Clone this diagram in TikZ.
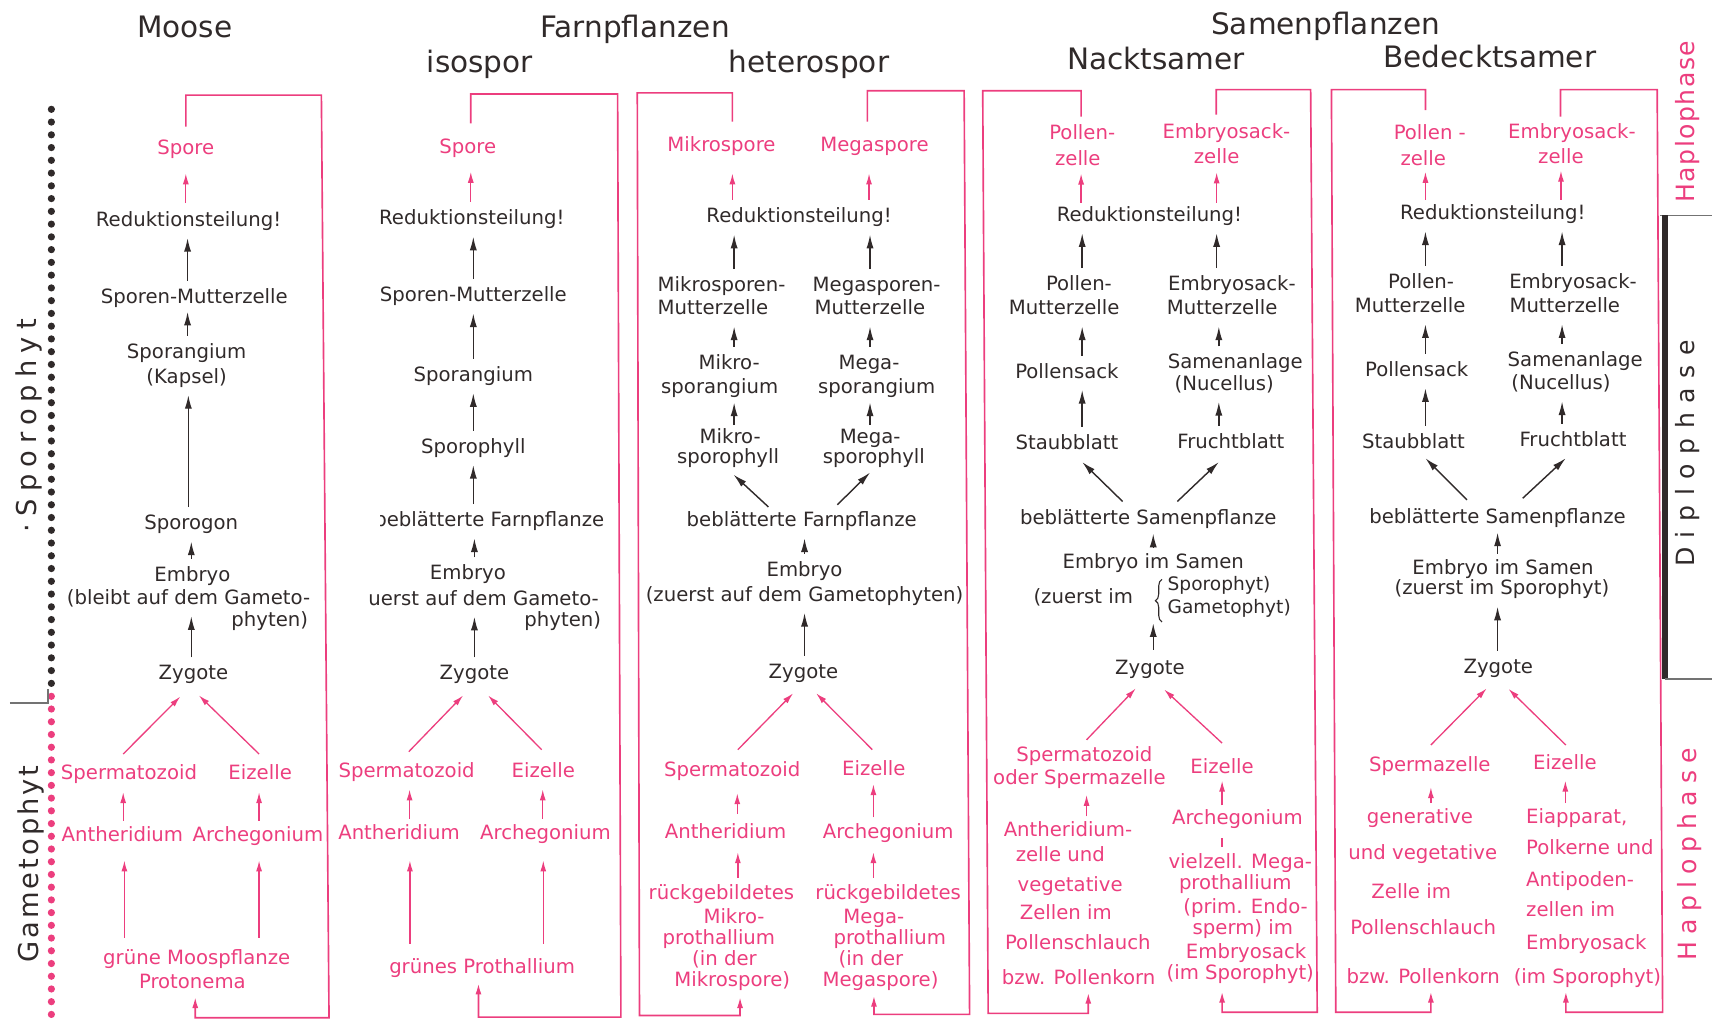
\documentclass[tikz,border=0pt]{standalone}
\usepackage{fontspec}
\setmainfont{DejaVu Sans}
\usetikzlibrary{arrows.meta,decorations.pathreplacing,calc}
\definecolor{pk}{RGB}{236,62,126}
\definecolor{ink}{RGB}{48,42,42}
\definecolor{rulegray}{RGB}{115,115,115}
\tikzset{
 tx/.style={inner sep=0pt, text=ink, font=\fontsize{18}{22}\selectfont, text height=13pt, text depth=4pt},
 px/.style={tx, text=pk},
 sm/.style={tx, font=\fontsize{17}{20}\selectfont, text height=12.3pt, text depth=3.8pt},
 hd/.style={inner sep=0pt, text=ink, font=\fontsize{27}{32}\selectfont, text height=19.5pt, text depth=5.5pt},
 side/.style={inner sep=0pt, rotate=90},
 arb/.style={draw=ink, line width=1.3pt, -{Latex[length=12.5pt,width=6.5pt]}},
 arp/.style={draw=pk, line width=1.2pt, -{Latex[length=10pt,width=5.5pt]}},
 ar/.style={arb, shorten <=7.5pt, shorten >=6.5pt},
 par/.style={arp, shorten <=6pt, shorten >=7pt},
 loopl/.style={draw=pk, line width=1.5pt, -{Latex[length=10pt,width=5.5pt]}},
}
\newcommand\vArr[4][]{\draw[ar,#1] (#2,0 |- #3.north) -- (#2,0 |- #4.south);}
\newcommand\pArr[4][]{\draw[par,#1] (#2,0 |- #3.north) -- (#2,0 |- #4.south);}
\begin{document}
\begin{tikzpicture}[x=1pt,y=-1pt]
\useasboundingbox (0,0) rectangle (1568,933);
% ---------------- headers
\node[hd] (hMoose) at (169,27.5) {Moose};
\node[hd] (hFarn) at (581,27) {Farnpflanzen};
\node[hd] (hIso) at (439,59.5) {isospor};
\node[hd] (hHet) at (740,59.5) {heterospor};
\node[hd] (hSam) at (1212.7,24.5) {Samenpflanzen};
\node[hd] (hNac) at (1057.6,57) {Nacktsamer};
\node[hd] (hBed) at (1363,55) {Bedecktsamer};
% ---------------- left margin
\foreach \i in {0,...,45} \fill[ink] (47,{100+\i*11.67}) circle[radius=3.3pt];
\foreach \i in {0,...,25} \fill[pk] (47,{637+\i*11.64}) circle[radius=3.3pt];
\node[side, text=ink, font=\fontsize{25}{30}\selectfont] (sporo) at (26.3,389.5) {\addfontfeature{LetterSpace=26}·Sporophyt};
\node[side, text=ink, font=\fontsize{25}{30}\selectfont] (game) at (28,790.5) {\addfontfeature{LetterSpace=11}Gametophyt};
\draw[rulegray, line width=1.2pt] (9,643) -- (44,643) -- (44,630);
% ---------------- right margin
\node[side, text=pk, font=\fontsize{23}{28}\selectfont] (hap1) at (1544,111.3) {\addfontfeature{LetterSpace=6}Haplophase};
\node[side, text=ink, font=\fontsize{23}{28}\selectfont] (dip) at (1544,415) {\addfontfeature{LetterSpace=38}Diplophase};
\node[side, text=pk, font=\fontsize{23}{28}\selectfont] (hap2) at (1546,781.5) {\addfontfeature{LetterSpace=28}Haplophase};

% ================= Column 1: Moose
\node[px] (s1) at (170,137) {Spore};
\node[tx] (r1) at (172.5,202.5) {Reduktionsteilung!};
\node[tx] (mz1) at (177.7,273) {Sporen-Mutterzelle};
\node[tx] (sg1a) at (170.7,323.3) {Sporangium};
\node[tx] (sg1b) at (170.7,346.2) {(Kapsel)};
\node[tx] (sp1) at (175,480.2) {Sporogon};
\node[tx] (e1a) at (176,527.5) {Embryo};
\node[tx] (e1b) at (172.5,548.5) {(bleibt auf dem Gameto-};
\node[tx,anchor=east] (e1c) at (282,568.5) {phyten)};
\node[tx] (z1) at (177,617.5) {Zygote};
\node[px] (sz1) at (118,709) {Spermatozoid};
\node[px] (ez1) at (238,709) {Eizelle};
\node[px] (an1) at (112,765.5) {Antheridium};
\node[px] (ar1) at (236,765.5) {Archegonium};
\node[px] (gm1a) at (180,878.2) {grüne Moospflanze};
\node[px] (gm1b) at (176,899.5) {Protonema};
\pArr[shorten <=8pt, shorten >=13pt]{170}{r1}{s1}
\vArr{171.6}{mz1}{r1}
\vArr[shorten >=3.5pt]{171.6}{sg1a}{mz1}
\vArr{172.3}{sp1}{sg1b}
\vArr{175}{e1a}{sp1}
\vArr{175}{z1}{e1b}
\pArr{112.7}{an1}{sz1}
\pArr{237}{ar1}{ez1}
\pArr[shorten <=11.5pt, shorten >=13pt]{113.8}{gm1a}{an1}
\pArr[shorten <=11.5pt, shorten >=13pt]{237}{gm1a}{ar1}
\draw[arp] ([shift={(-5.3pt,10.5pt)}]sz1.north) -- ([shift={(-12pt,-11pt)}]z1.south);
\draw[arp] ([shift={(-1pt,10.5pt)}]ez1.north) -- ([shift={(5pt,-10pt)}]z1.south);
\draw[loopl, shorten <=12.5pt, shorten >=4pt] (170,0 |- s1.north) |- (294,87) -- (301,931) -| (178.6,0 |- gm1b.south);

% ================= Column 2: isospor
\node[px] (s2) at (428,135.5) {Spore};
\node[tx] (r2) at (431.6,201.3) {Reduktionsteilung!};
\node[tx] (mz2) at (433,271.5) {Sporen-Mutterzelle};
\node[tx] (sg2) at (433,344.5) {Sporangium};
\node[tx] (sph2) at (433,410.2) {Sporophyll};
\begin{scope}
\clip (348.5,455) rectangle (570,500);
\node[tx,anchor=east] (bf2) at (553,477.3) {beblätterte Farnpflanze};
\end{scope}
\node[tx] (e2a) at (428,526) {Embryo};
\begin{scope}
\clip (337.5,530) rectangle (570,560);
\node[tx,anchor=east] (e2b) at (548,549) {(zuerst auf dem Gameto-};
\end{scope}
\node[tx,anchor=east] (e2c) at (550,568.5) {phyten)};
\node[tx] (z2) at (434,617.5) {Zygote};
\node[px] (sz2) at (372,706.5) {Spermatozoid};
\node[px] (ez2) at (497,706.5) {Eizelle};
\node[px] (an2) at (365,763.5) {Antheridium};
\node[px] (ar2) at (499,763.5) {Archegonium};
\node[px] (gp2) at (441,886) {grünes Prothallium};
\pArr[shorten <=8pt, shorten >=13pt]{430.7}{r2}{s2}
\vArr{433}{mz2}{r2}
\vArr{433}{sg2}{mz2}
\vArr{433}{sph2}{sg2}
\vArr{433}{bf2}{sph2}
\vArr{434}{e2a}{bf2}
\vArr{434}{z2}{e2b}
\pArr{374.7}{an2}{sz2}
\pArr{496.5}{ar2}{ez2}
\pArr[shorten <=14pt, shorten >=15pt]{375}{gp2}{an2}
\pArr[shorten <=14pt, shorten >=15pt]{497}{gp2}{ar2}
\draw[arp] ([shift={(2pt,10.2pt)}]sz2.north) -- ([shift={(-10.3pt,-10pt)}]z2.south);
\draw[arp] ([shift={(-1.5pt,12pt)}]ez2.north) -- ([shift={(12.5pt,-10pt)}]z2.south);
\draw[loopl, shorten <=14pt, shorten >=5pt] (430.7,0 |- s2.north) |- (565,86) -- (568,930.5) -| (437.7,0 |- gp2.south);

% ================= Column 3: heterospor
\node[px] (mis3) at (660,134) {Mikrospore};
\node[px] (mes3) at (800,134) {Megaspore};
\node[tx] (r3) at (731,199.5) {Reduktionsteilung!};
\node[tx,anchor=west] (mmz3a) at (601.5,262.5) {Mikrosporen-};
\node[tx,anchor=west] (mmz3b) at (601.5,283.5) {Mutterzelle};
\node[tx,anchor=west] (mez3a) at (743.3,262.5) {Megasporen-};
\node[tx,anchor=west] (mez3b) at (745,283.5) {Mutterzelle};
\node[tx] (msg3a) at (667,333.5) {Mikro-};
\node[tx] (msg3b) at (658.4,355.5) {sporangium};
\node[tx] (mgs3a) at (795,333.5) {Mega-};
\node[tx] (mgs3b) at (802,355.5) {sporangium};
\node[tx] (mp3a) at (668,401) {Mikro-};
\node[tx] (mp3b) at (666,419.5) {sporophyll};
\node[tx] (gp3a) at (796,401) {Mega-};
\node[tx] (gp3b) at (799.4,419.5) {sporophyll};
\node[tx] (bf3) at (733.4,477.3) {beblätterte Farnpflanze};
\node[tx] (e3a) at (736,523) {Embryo};
\node[tx] (e3b) at (736,545.5) {(zuerst auf dem Gametophyten)};
\node[tx] (z3) at (735,616) {Zygote};
\node[px] (sz3) at (669.8,706) {Spermatozoid};
\node[px] (ez3) at (799.4,705.2) {Eizelle};
\node[px] (an3) at (663.7,762.5) {Antheridium};
\node[px] (ar3) at (812.5,762.5) {Archegonium};
\node[px] (rk3a) at (660,818.5) {rückgebildetes};
\node[px] (rk3b) at (671.5,840.5) {Mikro-};
\node[px] (rk3c) at (657.6,859.5) {prothallium};
\node[px] (rk3d) at (662.8,878.3) {(in der};
\node[px] (rk3e) at (669.8,898.2) {Mikrospore)};
\node[px] (rg3a) at (812.5,818.5) {rückgebildetes};
\node[px] (rg3b) at (799.4,840.5) {Mega-};
\node[px] (rg3c) at (814,859.5) {prothallium};
\node[px] (rg3d) at (796.8,878.5) {(in der};
\node[px] (rg3e) at (805.5,898.2) {Megaspore)};
\pArr[shorten <=8pt, shorten >=16pt]{670}{r3}{mis3}
\pArr[shorten <=8pt, shorten >=16pt]{795}{r3}{mes3}
\vArr{671.6}{mmz3a}{r3}
\vArr{795.9}{mez3a}{r3}
\vArr{671.6}{msg3a}{mmz3b}
\vArr{795.9}{mgs3a}{mez3b}
\vArr[shorten <=3.5pt, shorten >=4pt]{671.6}{mp3a}{msg3b}
\vArr[shorten <=3.5pt, shorten >=4pt]{795.9}{gp3a}{mgs3b}
\draw[arb] ([shift={(-30.4pt,4.8pt)}]bf3.north) -- ([shift={(5pt,-6pt)}]mp3b.south);
\draw[arb] ([shift={(32.6pt,6.8pt)}]bf3.north) -- ([shift={(-3.4pt,-4pt)}]gp3b.south);
\vArr{736}{e3a}{bf3}
\vArr{736}{z3}{e3b}
\pArr[shorten <=9pt, shorten >=11pt]{674.5}{an3}{sz3}
\pArr[shorten <=6pt, shorten >=3.5pt]{799}{ar3}{ez3}
\pArr[shorten <=7pt, shorten >=8.5pt]{675}{rk3a}{an3}
\pArr[shorten <=7pt, shorten >=8.5pt]{799}{rg3a}{ar3}
\draw[arp] ([shift={(5.2pt,11.5pt)}]sz3.north) -- ([shift={(-9.4pt,-9.5pt)}]z3.south);
\draw[arp] ([shift={(-1.4pt,10.7pt)}]ez3.north) -- ([shift={(11.6pt,-9.5pt)}]z3.south);
\draw[loopl, shorten <=14pt, shorten >=5.3pt] (670,0 |- mis3.north) |- (583,85) -- (585,929) -| (677,0 |- rk3e.south);
\draw[loopl, shorten <=14pt, shorten >=4pt] (793.5,0 |- mes3.north) |- (882,83) -- (887,928) -| (799.5,0 |- rg3e.south);

% ================= Column 4: Nacktsamer
\node[px] (pz4a) at (990,123.5) {Pollen-};
\node[px] (pz4b) at (986,146.5) {zelle};
\node[px] (ez4a) at (1122,122.5) {Embryosack-};
\node[px] (ez4b) at (1113,145.5) {zelle};
\node[tx] (r4) at (1051.5,198.2) {Reduktionsteilung!};
\node[tx] (pm4a) at (987,261.5) {Pollen-};
\node[tx] (pm4b) at (973.6,283.5) {Mutterzelle};
\node[tx] (em4a) at (1127,261.5) {Embryosack-};
\node[tx] (em4b) at (1118,283.5) {Mutterzelle};
\node[tx] (ps4) at (976,341.5) {Pollensack};
\node[tx] (sa4a) at (1130,333) {Samenanlage};
\node[tx] (sa4b) at (1120,352.5) {(Nucellus)};
\node[tx] (st4) at (976,406.5) {Staubblatt};
\node[tx] (fb4) at (1126,405.5) {Fruchtblatt};
\node[tx] (bs4) at (1050.5,475.5) {beblätterte Samenpflanze};
\node[tx] (em4) at (1055,515.5) {Embryo im Samen};
\node[tx] (zu4) at (991,547.5) {(zuerst im};
\node[sm,anchor=west] (sg4a) at (1068,536) {Sporophyt)};
\node[sm,anchor=west] (sg4b) at (1068,557) {Gametophyt)};
\draw[ink, line width=1pt, decorate, decoration={brace,amplitude=6pt}] (1063,569) -- (1063,530);
\node[tx] (z4) at (1052,612.5) {Zygote};
\node[px] (sp4a) at (992,692.5) {Spermatozoid};
\node[px] (sp4b) at (987.5,713.5) {oder Spermazelle};
\node[px] (ei4) at (1118,703) {Eizelle};
\node[px] (an4a) at (977,761) {Antheridium-};
\node[px] (an4b) at (970,783.5) {zelle und};
\node[px] (an4c) at (979,811.5) {vegetative};
\node[px] (an4d) at (975,837) {Zellen im};
\node[px] (an4e) at (986,864.5) {Pollenschlauch};
\node[px] (an4f) at (986.7,896.5) {bzw. Pollenkorn};
\node[px] (ag4a) at (1132,750) {Archegonium};
\node[px] (ag4b) at (1134.6,790) {vielzell. Mega-};
\node[px] (ag4c) at (1130,809.5) {prothallium};
\node[px] (ag4d) at (1139.5,831) {(prim. Endo-};
\node[px] (ag4e) at (1137,850.5) {sperm) im};
\node[px] (ag4f) at (1140,872.5) {Embryosack};
\node[px] (ag4g) at (1134.6,892) {(im Sporophyt)};
\pArr[shorten <=4pt, shorten >=3.6pt]{989}{r4}{pz4b}
\pArr[shorten <=4pt, shorten >=3.6pt]{1113}{r4}{ez4b}
\vArr{990}{pm4a}{r4}
\vArr{1113}{em4a}{r4}
\vArr{990}{ps4}{pm4b}
\vArr{1115}{sa4a}{em4b}
\vArr{990}{st4}{ps4}
\vArr{1115}{fb4}{sa4b}
\draw[arb] ([shift={(-23.5pt,8pt)}]bs4.north) -- ([shift={(14pt,-7.5pt)}]st4.south);
\draw[arb] ([shift={(26.5pt,8pt)}]bs4.north) -- ([shift={(-11pt,-8.5pt)}]fb4.south);
\vArr[shorten <=6pt, shorten >=4pt]{1055}{em4}{bs4}
\vArr[shorten <=9.5pt, shorten >=14pt]{1055}{z4}{zu4}
\pArr[shorten <=5.5pt, shorten >=5pt]{994}{an4a}{sp4b}
\pArr[shorten <=4.5pt, shorten >=2.5pt]{1118}{ag4a}{ei4}
\draw[pk, line width=1.2pt, shorten <=6.5pt, shorten >=7.5pt] (1118,0 |- ag4b.north) -- (1118,0 |- ag4a.south);
\draw[arp] ([shift={(2pt,7pt)}]sp4a.north) -- ([shift={(-13pt,-8.6pt)}]z4.south);
\draw[arp] ([shift={(0pt,14.5pt)}]ei4.north) -- ([shift={(13pt,-9.6pt)}]z4.south);
\draw[loopl, shorten <=8pt, shorten >=3pt] (989,0 |- pz4a.north) |- (899,83) -- (904,927) -| (995.6,0 |- an4f.south);
\draw[loopl, shorten <=9pt, shorten >=6.5pt] (1112.6,0 |- ez4a.north) |- (1199,82) -- (1205,926) -| (1118,0 |- ag4g.south);

% ================= Column 5: Bedecktsamer
\node[px] (pz5a) at (1308,123.5) {Pollen -};
\node[px] (pz5b) at (1302,146.5) {zelle};
\node[px] (ez5a) at (1438,122.5) {Embryosack-};
\node[px] (ez5b) at (1428,145.5) {zelle};
\node[tx] (r5) at (1365.6,196.5) {Reduktionsteilung!};
\node[tx] (pm5a) at (1300,259.5) {Pollen-};
\node[tx] (pm5b) at (1290,281.5) {Mutterzelle};
\node[tx] (em5a) at (1439,259.5) {Embryosack-};
\node[tx] (em5b) at (1431.5,281.5) {Mutterzelle};
\node[tx] (ps5) at (1296,340) {Pollensack};
\node[tx] (sa5a) at (1441,331) {Samenanlage};
\node[tx] (sa5b) at (1428,352) {(Nucellus)};
\node[tx] (st5) at (1293,405.5) {Staubblatt};
\node[tx] (fb5) at (1439,404) {Fruchtblatt};
\node[tx] (bs5) at (1370,474.5) {beblätterte Samenpflanze};
\node[tx] (em5) at (1375,521.5) {Embryo im Samen};
\node[tx] (zu5) at (1374,539.8) {(zuerst im Sporophyt)};
\node[tx] (z5) at (1370.7,611.5) {Zygote};
\node[px] (sz5) at (1308,701.5) {Spermazelle};
\node[px] (ei5) at (1431.6,699.5) {Eizelle};
\node[px] (ge5a) at (1299,748.5) {generative};
\node[px] (ge5b) at (1301.6,782) {und vegetative};
\node[px] (ge5c) at (1291,817.5) {Zelle im};
\node[px] (ge5d) at (1302,850.5) {Pollenschlauch};
\node[px] (ge5e) at (1302,895.5) {bzw. Pollenkorn};
\node[px,anchor=west] (ea5a) at (1396,749) {Eiapparat,};
\node[px,anchor=west] (ea5b) at (1396,777.5) {Polkerne und};
\node[px,anchor=west] (ea5c) at (1396,806.5) {Antipoden-};
\node[px,anchor=west] (ea5d) at (1396,834) {zellen im};
\node[px,anchor=west] (ea5e) at (1396,864.5) {Embryosack};
\node[px,anchor=west] (ea5f) at (1384.6,895.5) {(im Sporophyt)};
\pArr[shorten <=5pt, shorten >=2pt]{1304}{r5}{pz5b}
\pArr[shorten <=5pt, shorten >=2pt]{1428}{r5}{ez5b}
\vArr{1304}{pm5a}{r5}
\vArr{1429}{em5a}{r5}
\vArr{1304}{ps5}{pm5b}
\vArr{1429}{sa5a}{em5b}
\vArr{1304}{st5}{ps5}
\vArr{1429}{fb5}{sa5b}
\draw[arb] ([shift={(-28pt,8.5pt)}]bs5.north) -- ([shift={(11pt,-5pt)}]st5.south);
\draw[arb] ([shift={(23pt,10pt)}]bs5.north) -- ([shift={(-6.6pt,-6.5pt)}]fb5.south);
\vArr[shorten <=6pt, shorten >=4pt]{1370}{em5}{bs5}
\vArr{1370}{z5}{zu5}
\pArr[shorten <=5pt, shorten >=10pt]{1309}{ge5a}{sz5}
\pArr[shorten <=5.5pt, shorten >=6pt]{1432}{ea5a}{ei5}
\draw[arp] ([shift={(1pt,11.3pt)}]sz5.north) -- ([shift={(-10.7pt,-9.6pt)}]z5.south);
\draw[arp] ([shift={(0.8pt,9.3pt)}]ei5.north) -- ([shift={(9.3pt,-10pt)}]z5.south);
\draw[loopl, shorten <=14pt, shorten >=3pt] (1304,0 |- pz5a.north) |- (1218,82) -- (1222,926) -| (1309,0 |- ge5e.south);
\draw[loopl, shorten <=7pt, shorten >=3pt] (1427.5,0 |- ez5a.north) |- (1516,82) -- (1521,926) -| (1432.5,0 |- ea5f.south);

% ---------------- phase markers right
\draw[rulegray, line width=1.3pt] (1519,197) -- (1566,197);
\draw[ink, line width=6pt] (1523,197) -- (1523,621);
\draw[rulegray, line width=1.3pt] (1523,621) -- (1566,621);
\end{tikzpicture}
\end{document}
